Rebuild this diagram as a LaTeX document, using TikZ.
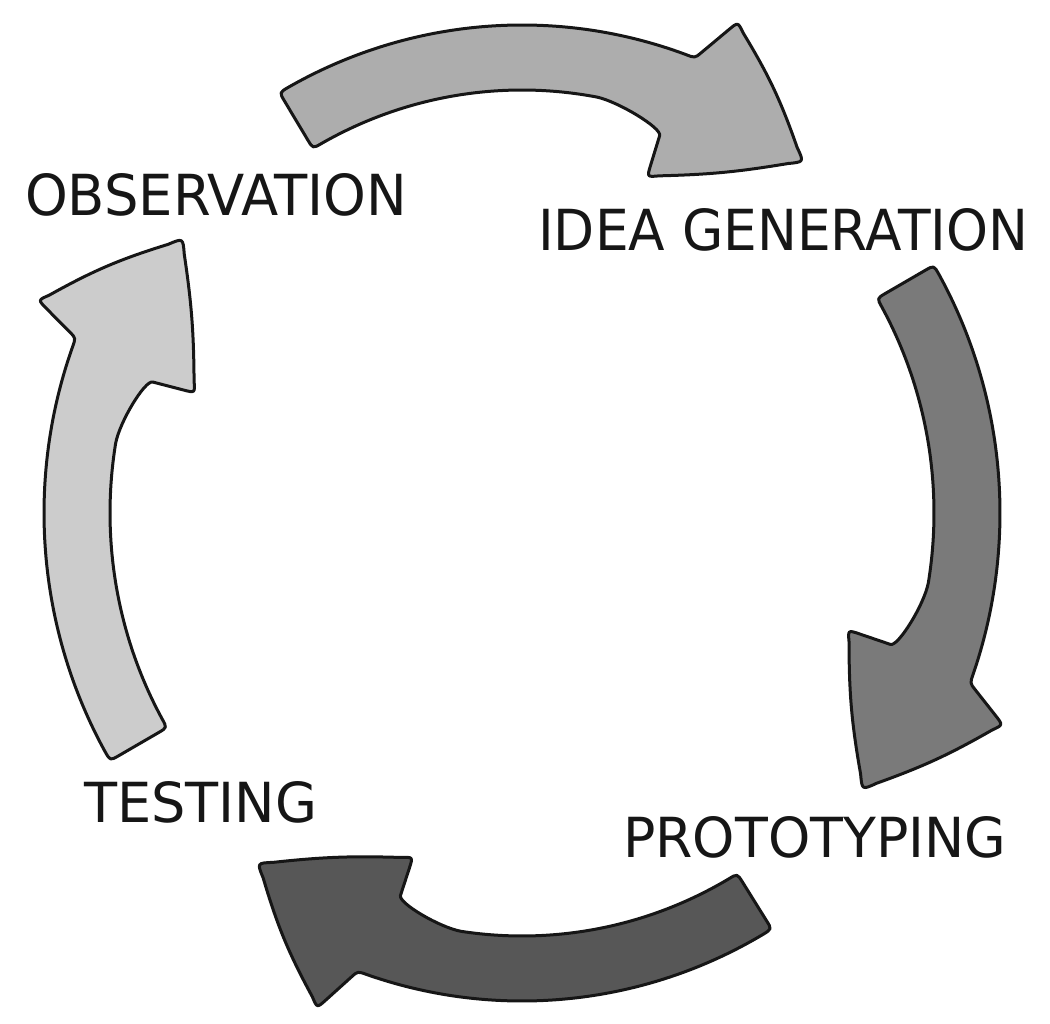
\documentclass[tikz,border=0pt]{standalone}
\usepackage{fontspec}
\setsansfont{DejaVu Sans}
\usepackage{graphicx}
\usetikzlibrary{calc}
\definecolor{topgray}{HTML}{ADADAD}
\definecolor{rightgray}{HTML}{7A7A7A}
\definecolor{bottomgray}{HTML}{575757}
\definecolor{leftgray}{HTML}{CCCCCC}
\definecolor{inkc}{HTML}{161616}
\tikzset{
  cyclearrow/.style={draw=inkc, line width=3pt, line join=round},
  steplabel/.style={inner sep=0pt, text=inkc, font=\sffamily}
}
\begin{document}
\begin{tikzpicture}[x=1pt, y=-1pt]
\useasboundingbox (0,0) rectangle (1050,1024);
\coordinate (c) at (522,513);
% ---------- top arrow: Observation -> Idea generation
\coordinate (tn) at (662,128);
\coordinate (tb1) at (738,22);
\coordinate (ttip) at (804,162);
\coordinate (tb2) at (647,177);
\coordinate (to1) at ($(c)+(-120.5:478 and 488)$);
\coordinate (to2) at ($(c)+(-68.8:478 and 488)$);
\coordinate (ti1) at ($(c)+(-120.5:412 and 423)$);
\draw[cyclearrow, fill=topgray]
  ($(c)+(-119.3:478 and 488)$)
  arc[start angle=-119.3, end angle=-70, x radius=478, y radius=488]
  .. controls (to2) .. ($(to2)!8pt!(tb1)$)
  -- ($(tb1)!12pt!(to2)$) .. controls (tb1) .. ($(tb1)!12pt!(ttip)$)
  to[bend left=6] ($(ttip)!16pt!(tb1)$) .. controls (ttip) .. ($(ttip)!16pt!(tb2)$)
  to[bend left=4] ($(tb2)!12pt!(ttip)$) .. controls (tb2) .. ($(tb2)!12pt!(tn)$)
  -- ($(tn)!8pt!(tb2)$) .. controls (tn) and ($(c)+(-76.5:412 and 423)$) .. ($(c)+(-79.5:412 and 423)$)
  arc[start angle=-79.5, end angle=-119.1, x radius=412, y radius=423]
  .. controls (ti1) .. ($(ti1)!10pt!(to1)$)
  -- ($(to1)!10pt!(ti1)$) .. controls (to1) .. ($(c)+(-119.3:478 and 488)$)
  -- cycle;
% ---------- right arrow: Idea generation -> Prototyping
\coordinate (rn) at (898,647);
\coordinate (rb1) at (1003,725);
\coordinate (rtip) at (862,790);
\coordinate (rb2) at (848,630);
\coordinate (ro1) at ($(c)+(-30.5:478 and 488)$);
\coordinate (ro2) at ($(c)+(20.4:478 and 488)$);
\coordinate (ri1) at ($(c)+(-30.5:412 and 423)$);
\draw[cyclearrow, fill=rightgray]
  ($(c)+(-29.3:478 and 488)$)
  arc[start angle=-29.3, end angle=19.2, x radius=478, y radius=488]
  .. controls (ro2) .. ($(ro2)!8pt!(rb1)$)
  -- ($(rb1)!12pt!(ro2)$) .. controls (rb1) .. ($(rb1)!12pt!(rtip)$)
  to[bend left=5] ($(rtip)!16pt!(rb1)$) .. controls (rtip) .. ($(rtip)!16pt!(rb2)$)
  to[bend left=5] ($(rb2)!12pt!(rtip)$) .. controls (rb2) .. ($(rb2)!12pt!(rn)$)
  -- ($(rn)!8pt!(rb2)$) .. controls (rn) and ($(c)+(12.5:412 and 423)$) .. ($(c)+(9.5:412 and 423)$)
  arc[start angle=9.5, end angle=-29.1, x radius=412, y radius=423]
  .. controls (ri1) .. ($(ri1)!10pt!(ro1)$)
  -- ($(ro1)!10pt!(ri1)$) .. controls (ro1) .. ($(c)+(-29.3:478 and 488)$)
  -- cycle;
% ---------- bottom arrow: Prototyping -> Testing
\coordinate (bn) at (398,903);
\coordinate (bb1) at (317,1008);
\coordinate (btip) at (257,863);
\coordinate (bb2) at (413,857);
\coordinate (bo1) at ($(c)+(58.5:478 and 488)$);
\coordinate (bo2) at ($(c)+(110.1:478 and 488)$);
\coordinate (bi1) at ($(c)+(58.5:412 and 423)$);
\draw[cyclearrow, fill=bottomgray]
  ($(c)+(59.7:478 and 488)$)
  arc[start angle=59.7, end angle=108.9, x radius=478, y radius=488]
  .. controls (bo2) .. ($(bo2)!8pt!(bb1)$)
  -- ($(bb1)!12pt!(bo2)$) .. controls (bb1) .. ($(bb1)!12pt!(btip)$)
  to[bend left=6] ($(btip)!16pt!(bb1)$) .. controls (btip) .. ($(btip)!16pt!(bb2)$)
  to[bend left=4] ($(bb2)!12pt!(btip)$) .. controls (bb2) .. ($(bb2)!12pt!(bn)$)
  -- ($(bn)!8pt!(bb2)$) .. controls (bn) and ($(c)+(101.5:412 and 423)$) .. ($(c)+(98.5:412 and 423)$)
  arc[start angle=98.5, end angle=59.9, x radius=412, y radius=423]
  .. controls (bi1) .. ($(bi1)!10pt!(bo1)$)
  -- ($(bo1)!10pt!(bi1)$) .. controls (bo1) .. ($(c)+(59.7:478 and 488)$)
  -- cycle;
% ---------- left arrow: Testing -> Observation
\coordinate (ln) at (145,380);
\coordinate (lb1) at (38,300);
\coordinate (ltip) at (183,238);
\coordinate (lb2) at (195,393);
\coordinate (lo1) at ($(c)+(149.5:478 and 488)$);
\coordinate (lo2) at ($(c)+(201:478 and 488)$);
\coordinate (li1) at ($(c)+(149.5:412 and 423)$);
\draw[cyclearrow, fill=leftgray]
  ($(c)+(150.7:478 and 488)$)
  arc[start angle=150.7, end angle=199.8, x radius=478, y radius=488]
  .. controls (lo2) .. ($(lo2)!8pt!(lb1)$)
  -- ($(lb1)!12pt!(lo2)$) .. controls (lb1) .. ($(lb1)!12pt!(ltip)$)
  to[bend left=6] ($(ltip)!16pt!(lb1)$) .. controls (ltip) .. ($(ltip)!16pt!(lb2)$)
  to[bend left=4] ($(lb2)!12pt!(ltip)$) .. controls (lb2) .. ($(lb2)!12pt!(ln)$)
  -- ($(ln)!8pt!(lb2)$) .. controls (ln) and ($(c)+(192.5:412 and 423)$) .. ($(c)+(189.5:412 and 423)$)
  arc[start angle=189.5, end angle=150.9, x radius=412, y radius=423]
  .. controls (li1) .. ($(li1)!10pt!(lo1)$)
  -- ($(lo1)!10pt!(li1)$) .. controls (lo1) .. ($(c)+(150.7:478 and 488)$)
  -- cycle;
% ---------- labels
\node[steplabel, anchor=south west] (obs) at (25,217) {\resizebox{382pt}{42pt}{OBSERVATION}};
\node[steplabel, anchor=south west] (idea) at (538,252) {\resizebox{490pt}{42pt}{IDEA GENERATION}};
\node[steplabel, anchor=south west] (proto) at (623,858) {\resizebox{383pt}{41pt}{PROTOTYPING}};
\node[steplabel, anchor=south west] (test) at (84,823) {\resizebox{233pt}{41pt}{TESTING}};
\end{tikzpicture}
\end{document}
